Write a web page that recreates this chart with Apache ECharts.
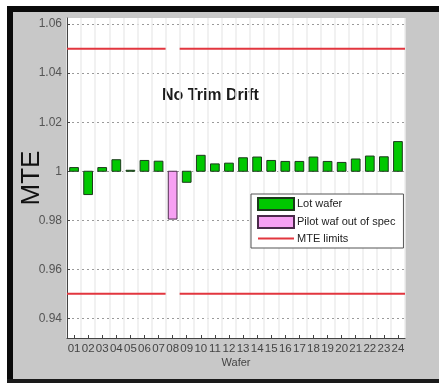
<!DOCTYPE html>
<html>
<head>
<meta charset="utf-8">
<script src="https://cdn.jsdelivr.net/npm/echarts@6/dist/echarts.min.js"></script>
<style>
  html, body { margin: 0; padding: 0; background: #fff; }
  #chart { width: 439px; height: 383px; }
</style>
</head>
<body>
<div id="chart"></div>
<script>
// Wafer numbers along the x axis
const wafers = ['01','02','03','04','05','06','07','08','09','10','11','12',
                '13','14','15','16','17','18','19','20','21','22','23','24'];

// MTE per lot wafer (wafer 08 is the pilot wafer, shown separately)
const lotWaferMte = [1.0015, 0.9905, 1.0015, 1.0047, 1.0004, 1.0044, 1.0041, null,
                     0.9955, 1.0065, 1.0030, 1.0033, 1.0055, 1.0058, 1.0044, 1.0040,
                     1.0040, 1.0058, 1.0040, 1.0036, 1.0050, 1.0062, 1.0059, 1.0121];

// Pilot wafer that fell out of spec
const pilotWaferMte = [null, null, null, null, null, null, null, 0.9805,
                       null, null, null, null, null, null, null, null,
                       null, null, null, null, null, null, null, null];

// Spec limits and nominal MTE (bars grow from the nominal value)
const mteUpperLimit = 1.05;
const mteLowerLimit = 0.95;
const mteNominal = 1;

// Y axis labels
const yTicks = [0.94, 0.96, 0.98, 1, 1.02, 1.04, 1.06];

// The limit lines are interrupted at the pilot wafer slot
const gapIndex = pilotWaferMte.findIndex(v => v != null);

function limitSegments(level) {
  return [
    [-0.5, level], [gapIndex - 0.5, level],
    [gapIndex, null],
    [gapIndex + 0.5, level], [wafers.length - 0.5, level]
  ];
}

function toPairs(values) {
  const out = [];
  values.forEach((v, i) => { if (v != null) out.push([i, v]); });
  return out;
}

// Bars drawn from the nominal value up or down to the measured MTE
function renderDeltaBar(params, api) {
  const idx = api.value(0);
  const val = api.value(1);
  const base = api.coord([idx, mteNominal]);
  const top = api.coord([idx, val]);
  const w = api.size([1, 0])[0] * 0.62;
  return {
    type: 'rect',
    shape: {
      x: base[0] - w / 2,
      y: Math.min(base[1], top[1]),
      width: w,
      height: Math.abs(top[1] - base[1])
    },
    style: api.style()
  };
}

const chart = echarts.init(document.getElementById('chart'), null, { renderer: 'canvas' });

const lotStyle = { color: '#00c800', borderColor: '#1c3a1c', borderWidth: 1 };
const pilotStyle = { color: '#f7a0f3', borderColor: '#4a2a4a', borderWidth: 1 };
const limitColor = '#e2363f';
const font = '"Liberation Sans", Arial, sans-serif';

chart.setOption({
  backgroundColor: '#c8c8c8',
  animation: false,
  graphic: [
    { type: 'rect', shape: { x: 0, y: 0, width: 439, height: 6 }, style: { fill: '#ffffff' } },
    { type: 'rect', shape: { x: 0, y: 0, width: 7, height: 383 }, style: { fill: '#ffffff' } },
    { type: 'rect', shape: { x: 7, y: 6, width: 432, height: 6 }, style: { fill: '#0a0a0a' } },
    { type: 'rect', shape: { x: 7, y: 6, width: 6, height: 377 }, style: { fill: '#0a0a0a' } },
    { type: 'rect', shape: { x: 7, y: 379, width: 432, height: 4 }, style: { fill: '#1a1a1a' } },
    {
      type: 'text', left: 162, top: 88,
      style: { text: 'No Trim Drift', font: 'bold 16px ' + font, fill: '#1a1a1a' }
    }
  ],
  grid: {
    left: 67, right: 34, top: 18, bottom: 45,
    containLabel: false,
    outerBoundsMode: 'none',
    show: true, backgroundColor: '#ffffff', borderWidth: 0
  },
  legend: {
    orient: 'vertical',
    left: 251, top: 194,
    backgroundColor: '#ffffff',
    borderColor: '#555',
    borderWidth: 1,
    borderRadius: 0,
    padding: [3, 8, 4, 6],
    itemGap: 4,
    itemWidth: 36,
    itemHeight: 12,
    textStyle: { fontFamily: font, fontSize: 11, color: '#222', padding: [0, 0, 0, -2] },
    data: [
      { name: 'Lot wafer', icon: 'rect' },
      { name: 'Pilot waf out of spec', icon: 'rect' },
      { name: 'MTE limits', itemStyle: { opacity: 0 } }
    ]
  },
  xAxis: [
    {
      type: 'category',
      data: wafers,
      name: 'Wafer',
      nameLocation: 'middle',
      nameGap: 19,
      nameMoveOverlap: false,
      nameTextStyle: { fontFamily: font, fontSize: 11, color: '#444', verticalAlign: 'top' },
      axisLine: { onZero: false, lineStyle: { color: '#444', width: 1 } },
      axisTick: { show: true, alignWithLabel: true, inside: true, length: 3, lineStyle: { color: '#444' } },
      axisLabel: { interval: 0, margin: 5, fontFamily: font, fontSize: 11.5, color: '#444' },
      splitLine: { show: true, lineStyle: { color: '#ececec', width: 1.5 } }
    },
    {
      type: 'value', min: -0.5, max: wafers.length - 0.5, show: false
    }
  ],
  yAxis: {
    type: 'value',
    min: 0.932,
    max: 1.0625,
    name: 'MTE',
    nameLocation: 'middle',
    nameGap: 22,
    nameMoveOverlap: false,
    nameTextStyle: { fontFamily: font, fontSize: 26, color: '#111' },
    axisLine: { show: true, onZero: false, lineStyle: { color: '#444', width: 1 } },
    axisTick: { show: true, inside: true, length: 3, customValues: yTicks, lineStyle: { color: '#444' } },
    axisLabel: {
      customValues: yTicks,
      margin: 5,
      fontFamily: font, fontSize: 12, color: '#555',
      formatter: v => String(+Number(v).toFixed(2))
    },
    splitLine: { show: true, lineStyle: { color: '#9a9a9a', width: 1, type: [2, 3] } }
  },
  series: [
    {
      name: 'Lot wafer',
      type: 'custom',
      renderItem: renderDeltaBar,
      itemStyle: lotStyle,
      encode: { x: 0, y: 1 },
      data: toPairs(lotWaferMte),
      z: 3
    },
    {
      name: 'Pilot waf out of spec',
      type: 'custom',
      renderItem: renderDeltaBar,
      itemStyle: pilotStyle,
      encode: { x: 0, y: 1 },
      data: toPairs(pilotWaferMte),
      z: 3
    },
    {
      name: 'MTE limits',
      type: 'line',
      xAxisIndex: 1,
      symbol: 'none',
      connectNulls: false,
      lineStyle: { color: limitColor, width: 2 },
      itemStyle: { color: limitColor },
      data: limitSegments(mteUpperLimit),
      z: 4
    },
    {
      name: 'MTE limits',
      type: 'line',
      xAxisIndex: 1,
      symbol: 'none',
      connectNulls: false,
      lineStyle: { color: limitColor, width: 2 },
      itemStyle: { color: limitColor },
      data: limitSegments(mteLowerLimit),
      z: 4
    }
  ]
});
</script>
</body>
</html>
